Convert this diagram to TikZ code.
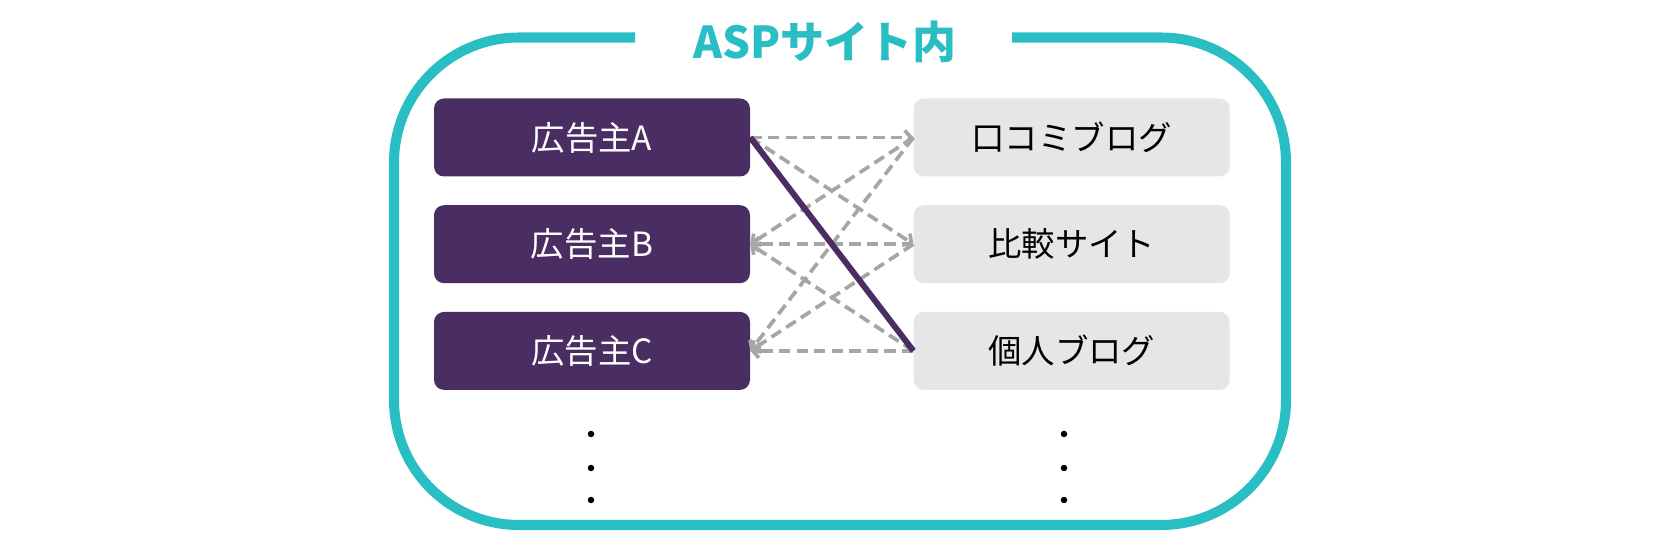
\documentclass[tikz,border=0pt]{standalone}
\usepackage{fontspec}
\newfontfamily\jpfont{Noto Sans CJK JP}
\usepackage{xcolor}
\usetikzlibrary{arrows.meta, positioning}
\definecolor{aspteal}{RGB}{40,190,195}
\definecolor{advpurple}{RGB}{74,45,98}
\definecolor{mediagray}{RGB}{230,230,230}
\definecolor{linkgray}{RGB}{166,166,166}

\begin{document}
\begin{tikzpicture}[>={Straight Barb[length=3.5pt,width=8pt]}]
    \tikzstyle{advertiser} = [rectangle, fill=advpurple, text=white, minimum width=6.32cm, minimum height=1.56cm, rounded corners=0.2cm, font=\jpfont\fontsize{19}{22}\selectfont]
    \tikzstyle{media} = [rectangle, fill=mediagray, text=black, minimum width=6.32cm, minimum height=1.56cm, rounded corners=0.2cm, font=\jpfont\fontsize{19}{22}\selectfont]
    \tikzstyle{link} = [draw=linkgray, line width=2.1pt, dash pattern=on 6.5pt off 3.5pt]
    \tikzstyle{chosen} = [draw=advpurple, line width=3.4pt]

    \useasboundingbox (0,0) rectangle (33.6,11);

    % frame with gap for the title
    \draw [aspteal, line width=5.7pt, rounded corners=2.5cm] (12.7,10.25) -- (7.88,10.25) -- (7.88,0.5) -- (25.72,0.5) -- (25.72,10.25) -- (20.24,10.25);
    \node [text=aspteal, font=\jpfont\bfseries\fontsize{25}{28}\selectfont] (title) at (16.5,10.16) {ASPサイト内};

    \node [advertiser] (advA) at (11.84,8.25) {広告主A};
    \node [advertiser, below=0.56cm of advA] (advB) {広告主B};
    \node [advertiser, below=0.56cm of advB] (advC) {広告主C};

    \node [media, right=3.26cm of advA] (kuchikomi) {口コミブログ};
    \node [media, right=3.26cm of advB] (hikaku) {比較サイト};
    \node [media, right=3.26cm of advC] (kojin) {個人ブログ};

    \draw [->, link] (advA.east) -- (kuchikomi.west);
    \draw [->, link] (advA.east) -- (hikaku.west);
    \foreach \m in {kuchikomi, hikaku, kojin} {
        \draw [->, link] (\m.west) -- (advB.east);
        \draw [->, link] (\m.west) -- (advC.east);
    }
    \draw [chosen] (advA.east) -- (kojin.west);

    % more to come
    \foreach \y in {2.32, 1.64, 1.0} {
        \fill (11.82,\y) circle (0.065);
        \fill (21.28,\y) circle (0.065);
    }
\end{tikzpicture}
\end{document}
